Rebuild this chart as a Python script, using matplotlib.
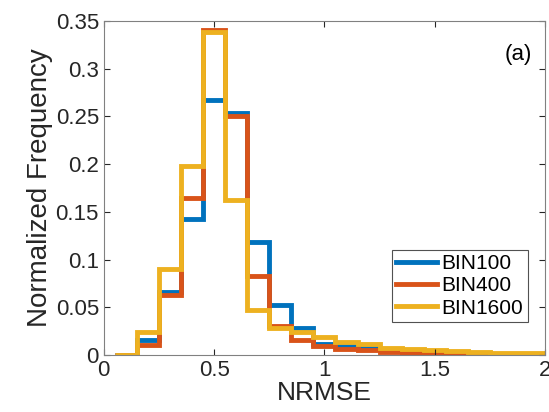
import numpy as np
import matplotlib.pyplot as plt

plt.rcParams['font.family'] = ['Liberation Sans', 'DejaVu Sans']

# bin edges (width 0.1) and normalized frequencies
edges = np.round(np.arange(0.05, 2.15, 0.1), 2)
bin100 = [0.0, 0.016, 0.066, 0.143, 0.267, 0.254, 0.118, 0.053, 0.028, 0.012,
          0.010, 0.008, 0.005, 0.004, 0.003, 0.002, 0.002, 0.001, 0.001, 0.001]
bin400 = [0.0, 0.011, 0.063, 0.165, 0.341, 0.251, 0.083, 0.031, 0.016, 0.010,
          0.006, 0.005, 0.003, 0.002, 0.002, 0.001, 0.001, 0.001, 0.001, 0.0]
bin1600 = [0.0, 0.024, 0.090, 0.198, 0.339, 0.163, 0.047, 0.028, 0.024, 0.019,
           0.014, 0.012, 0.008, 0.006, 0.005, 0.004, 0.003, 0.002, 0.002, 0.002]
labels = ['BIN100', 'BIN400', 'BIN1600']
colors = ['#0072BD', '#D95319', '#EDB120']

fig = plt.figure(figsize=(5.49, 4.12), dpi=100)
ax = fig.add_axes([0.189, 0.138, 0.804, 0.811])

for vals, lab, col in zip([bin100, bin400, bin1600], labels, colors):
    ax.stairs(vals, edges, color=col, linewidth=3.5, label=lab)

ax.set_xlim(0, 2)
ax.set_ylim(0, 0.35)
ax.set_xticks([0, 0.5, 1, 1.5, 2])
ax.set_xticklabels(['0', '0.5', '1', '1.5', '2'])
ax.set_yticks(np.arange(0, 0.36, 0.05))
ax.set_yticklabels(['0', '0.05', '0.1', '0.15', '0.2', '0.25', '0.3', '0.35'])
ax.tick_params(direction='in', labelsize=16, colors='#262626', length=4,
               top=True, right=True, labeltop=False, labelright=False)
for s in ax.spines.values():
    s.set_color('#808080')
ax.set_xlabel('NRMSE', fontsize=19, color='#262626', labelpad=0)
ax.set_ylabel('Normalized Frequency', fontsize=20, color='#262626', labelpad=2)
ax.text(0.97, 0.9, '(a)', transform=ax.transAxes, ha='right', va='center',
        fontsize=16, color='black')

leg = ax.legend(loc='lower right', bbox_to_anchor=(0.96, 0.1), fontsize=15,
                frameon=True, fancybox=False, handlelength=2.0,
                handletextpad=0.2, labelspacing=0.15, borderpad=0.2,
                borderaxespad=0)
leg.get_frame().set_edgecolor('#262626')
leg.get_frame().set_linewidth(0.8)

fig.savefig('out.png', dpi=100)
